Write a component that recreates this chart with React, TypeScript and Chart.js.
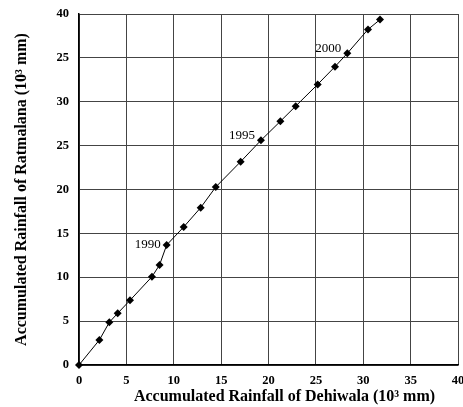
import React, { useEffect, useRef } from "react";
import { Chart, registerables } from "chart.js";

Chart.register(...registerables);

const dehiwala = [0, 2.15, 3.2, 4.08, 5.38, 7.7, 8.5, 9.25, 11.05, 12.84, 14.43, 17.06, 19.2, 21.25, 22.87, 25.19, 27.02, 28.32, 30.5, 31.77];
const ratmalana = [0, 2.85, 4.87, 5.89, 7.37, 10.06, 11.4, 13.67, 15.73, 17.93, 20.28, 23.17, 25.6, 27.77, 29.5, 31.98, 34.0, 35.52, 38.24, 39.36];
const xTickLabels = ["0", "5", "10", "15", "20", "25", "30", "35", "40"];
const yTickLabels = ["0", "5", "10", "15", "20", "25", "30", "25", "40"];
const yearLabels = ["1990", "1995", "2000"];
const yearIndex = [7, 12, 17];
const xTitle = "Accumulated Rainfall of Dehiwala (10\u00B3 mm)";
const yTitle = "Accumulated Rainfall of Ratmalana (10\u00B3 mm)";

const SERIF = "'Liberation Serif', 'Times New Roman', serif";

const labelPlugin = {
  id: "customText",
  afterDraw(chart: any) {
    const ctx = chart.ctx;
    const xs = chart.scales.x;
    const ys = chart.scales.y;
    const area = chart.chartArea;
    ctx.save();
    ctx.fillStyle = "#000";
    ctx.font = `13px ${SERIF}`;
    ctx.textAlign = "right";
    ctx.textBaseline = "middle";
    const dys = [0, -5, -5];
    yearLabels.forEach((t, i) => {
      const k = yearIndex[i];
      const px = xs.getPixelForValue(dehiwala[k]);
      const py = ys.getPixelForValue(ratmalana[k]);
      ctx.fillText(t, px - 6, py + dys[i]);
    });
    ctx.font = `bold 16px ${SERIF}`;
    ctx.textAlign = "center";
    ctx.fillText(xTitle, (area.left + area.right) / 2 + 16, area.bottom + 32);
    ctx.translate(22, (area.top + area.bottom) / 2);
    ctx.rotate(-Math.PI / 2);
    ctx.fillText(yTitle, 0, 0);
    ctx.restore();
  },
};

export default function App() {
  const ref = useRef<HTMLCanvasElement>(null);
  useEffect(() => {
    if (!ref.current) return;
    const chart = new Chart(ref.current, {
      type: "scatter",
      data: {
        datasets: [
          {
            data: dehiwala.map((x, i) => ({ x, y: ratmalana[i] })),
            showLine: true,
            clip: false,
            borderColor: "#000",
            borderWidth: 1,
            backgroundColor: "#000",
            pointStyle: "rectRot",
            pointRadius: 4,
            pointBorderWidth: 0,
          },
        ],
      },
      options: {
        animation: false,
        responsive: false,
        maintainAspectRatio: false,
        layout: { padding: { left: 0, right: 5, top: 14, bottom: 0 } },
        plugins: { legend: { display: false }, tooltip: { enabled: false } },
        scales: {
          x: {
            type: "linear",
            min: 0,
            max: 40,
            ticks: {
              stepSize: 5,
              padding: 8,
              color: "#000",
              font: { family: SERIF, weight: "bold", size: 12.5 },
              callback: (v: any) => xTickLabels[Math.round(Number(v) / 5)] ?? "",
            },
            grid: { color: "#444", lineWidth: 1, drawTicks: false },
            border: { color: "#000", width: 1.5 },
            afterFit: (s: any) => {
              s.height = 42;
              s.paddingLeft = 0;
              s.paddingRight = 0;
            },
          },
          y: {
            type: "linear",
            min: 0,
            max: 40,
            ticks: {
              stepSize: 5,
              padding: 10,
              color: "#000",
              font: { family: SERIF, weight: "bold", size: 12.5 },
              callback: (v: any) => yTickLabels[Math.round(Number(v) / 5)] ?? "",
            },
            grid: { color: "#444", lineWidth: 1, drawTicks: false },
            border: { color: "#000", width: 1.5 },
            afterFit: (s: any) => {
              s.width = 79;
              s.paddingTop = 0;
              s.paddingBottom = 0;
            },
          },
        },
      },
      plugins: [labelPlugin],
    } as any);
    return () => chart.destroy();
  }, []);
  return (
    <div style={{ position: "absolute", left: 0, top: 0, width: 463, height: 407, background: "#fff" }}>
      <canvas ref={ref} width={463} height={407} style={{ width: 463, height: 407 }} />
    </div>
  );
}
